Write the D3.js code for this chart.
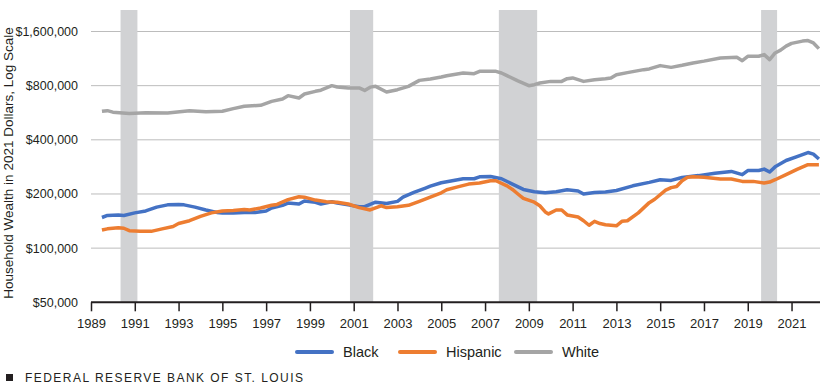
<!DOCTYPE html>
<html>
<head>
<meta charset="utf-8">
<script src="https://cdn.jsdelivr.net/npm/d3@7"></script>
<style>
  body { margin: 0; background: #fff; }
  svg text { font-family: "Liberation Sans", Arial, sans-serif; fill: #231f20; }
</style>
</head>
<body>
<div id="graphique"></div>
<script>
// values, [year, dollars]
const blackData = [
  [1989.5,148000],[1989.75,152000],[1990.25,153000],[1990.5,152000],[1991,157000],[1991.5,161000],
  [1992,169000],[1992.5,174000],[1993,175000],[1993.25,174000],[1993.75,169000],[1994.25,163000],
  [1994.75,158000],[1995,157000],[1995.5,157000],[1996,158000],[1996.5,158000],[1997,161000],
  [1997.25,167000],[1997.75,173000],[1998,178000],[1998.5,176000],[1998.75,183000],[1999.25,180000],
  [1999.5,176000],[2000,181000],[2000.25,178000],[2000.75,174000],[2001.25,170000],[2001.5,170000],
  [2002,180000],[2002.5,177000],[2003,182000],[2003.25,192000],[2003.75,204000],[2004.25,215000],
  [2004.5,221000],[2005,231000],[2005.5,237000],[2006,243000],[2006.5,243000],[2006.75,249000],
  [2007.25,250000],[2007.75,243000],[2008.25,227000],[2008.75,212000],[2009.25,206000],[2009.75,203000],
  [2010.25,206000],[2010.75,211000],[2011.25,208000],[2011.5,200000],[2012,204000],[2012.5,205000],
  [2013,209000],[2013.75,222000],[2014.5,232000],[2015,240000],[2015.5,238000],[2016,247000],
  [2016.75,253000],[2017.5,261000],[2018.25,267000],[2018.75,256000],[2019,270000],[2019.5,270000],
  [2019.75,275000],[2020,265000],[2020.25,283000],[2020.75,307000],[2021.25,323000],[2021.75,340000],
  [2022,333000],[2022.25,313000]
]
const hispanicData = [
  [1989.5,126000],[1989.75,128000],[1990.25,130000],[1990.5,129000],[1990.75,125000],[1991.25,124000],
  [1991.75,124000],[1992.25,128000],[1992.75,132000],[1993,137000],[1993.5,142000],[1994,150000],
  [1994.5,157000],[1995,161000],[1995.5,162000],[1996,164000],[1996.25,163000],[1996.75,167000],
  [1997.25,173000],[1997.5,175000],[1998,186000],[1998.5,193000],[1998.75,192000],[1999.25,185000],
  [1999.75,181000],[2000.25,180000],[2000.75,176000],[2001.25,168000],[2001.75,163000],[2002.25,172000],
  [2002.5,168000],[2003,170000],[2003.5,173000],[2004,182000],[2004.5,192000],[2005,203000],
  [2005.25,211000],[2005.75,219000],[2006.25,227000],[2006.75,230000],[2007.25,237000],[2007.5,237000],
  [2008,222000],[2008.25,212000],[2008.5,200000],[2008.75,189000],[2009.25,180000],[2009.5,172000],
  [2009.75,159000],[2009.9,155000],[2010.25,163000],[2010.5,163000],[2010.75,153000],[2011.25,149000],
  [2011.5,142000],[2011.75,134000],[2012,141000],[2012.25,137000],[2012.5,135000],[2013,133000],
  [2013.25,141000],[2013.5,142000],[2014,157000],[2014.5,179000],[2014.75,187000],[2015.25,210000],
  [2015.5,217000],[2015.75,220000],[2016,237000],[2016.25,248000],[2016.5,249000],[2017,248000],
  [2017.75,242000],[2018.25,242000],[2018.75,235000],[2019.25,235000],[2019.75,230000],[2020,233000],
  [2020.25,240000],[2020.75,256000],[2021.25,274000],[2021.75,291000],[2022.25,291000]
]
const whiteData = [
  [1989.5,576000],[1989.75,581000],[1990,570000],[1990.75,561000],[1991.5,566000],[1992.5,564000],
  [1993.5,581000],[1994.25,573000],[1995,577000],[1995.5,596000],[1996,614000],[1996.75,622000],
  [1997.25,654000],[1997.75,675000],[1998,704000],[1998.5,683000],[1998.75,719000],[1999.25,744000],
  [1999.5,755000],[2000,800000],[2000.25,787000],[2000.75,777000],[2001.25,777000],[2001.5,753000],
  [2001.75,785000],[2002,793000],[2002.5,738000],[2003,760000],[2003.5,793000],[2004,856000],
  [2004.5,872000],[2005,894000],[2005.25,909000],[2006,941000],[2006.5,933000],[2006.75,961000],
  [2007.5,961000],[2007.75,941000],[2008,909000],[2008.5,850000],[2009,800000],[2009.25,810000],
  [2009.5,828000],[2010,845000],[2010.5,845000],[2010.75,875000],[2011,883000],[2011.25,864000],
  [2011.5,845000],[2012,864000],[2012.5,875000],[2012.75,883000],[2013,921000],[2013.5,945000],
  [2014.25,982000],[2014.5,991000],[2015,1034000],[2015.5,1011000],[2016,1038000],[2016.5,1070000],
  [2017,1095000],[2017.75,1141000],[2018.5,1150000],[2018.75,1102000],[2019,1165000],[2019.5,1165000],
  [2019.75,1190000],[2020,1116000],[2020.25,1216000],[2020.5,1261000],[2020.75,1327000],[2021,1375000],
  [2021.5,1415000],[2021.75,1424000],[2022,1382000],[2022.25,1285000]
]
const recessions = [[1990.35, 1991.12], [2000.83, 2001.89], [2007.63, 2009.38], [2019.61, 2020.34]]
const yTicks = [50000, 100000, 200000, 400000, 800000, 1600000]
const xTicks = d3.range(1989, 2022, 2)
const seriesNames = ['Black', 'Hispanic', 'White']
const colors = ['#4472c4', '#ed7d31', '#a5a5a5']

const width = 825, height = 385
const svg = d3.select('#graphique').append('svg')
  .attr('width', width).attr('height', height)

const x = d3.scaleLinear().domain([1989, 2022.3]).range([91, 820])
const y = d3.scaleLog().domain([50000, 1600000]).range([302.3, 31.5])

// gridlines
svg.append('g').selectAll('line')
  .data(yTicks.slice(1)).enter().append('line')
  .attr('x1', 91).attr('x2', 820)
  .attr('y1', d => y(d)).attr('y2', d => y(d))
  .attr('stroke', '#bcbcbc').attr('stroke-width', 1)

// recession bars
svg.append('g').selectAll('rect')
  .data(recessions).enter().append('rect')
  .attr('x', d => x(d[0])).attr('width', d => x(d[1]) - x(d[0]))
  .attr('y', 10).attr('height', y(50000) - 10)
  .attr('fill', '#d1d2d4')

// y labels
svg.append('g').selectAll('text')
  .data(yTicks).enter().append('text')
  .attr('x', 78).attr('y', d => y(d) + 4.5)
  .attr('text-anchor', 'end').attr('font-size', 12.5)
  .text(d => '$' + d3.format(',')(d))

// x axis
const xAxis = svg.append('g')
  .attr('transform', 'translate(0,' + y(50000) + ')')
  .call(d3.axisBottom(x).tickValues(xTicks).tickFormat(d3.format('d')).tickSize(9).tickPadding(7))
xAxis.select('.domain').attr('stroke', '#231f20').attr('stroke-width', 2).attr('d', 'M91,0H820')
xAxis.selectAll('.tick line').attr('stroke', '#231f20').attr('stroke-width', 1.5)
xAxis.selectAll('.tick text').attr('font-size', 13).attr('font-family', null).attr('fill', '#231f20')

// lines
const line = d3.line().x(d => x(d[0])).y(d => y(d[1]))
const allData = [blackData, hispanicData, whiteData]
svg.append('g').selectAll('path')
  .data(allData).enter().append('path')
  .attr('d', line)
  .attr('fill', 'none')
  .attr('stroke', (d, i) => colors[i])
  .attr('stroke-width', 3.5)
  .attr('stroke-linejoin', 'round')

// y axis title
svg.append('text')
  .attr('transform', 'translate(13,163) rotate(-90)')
  .attr('text-anchor', 'middle').attr('font-size', 13.5)
  .text('Household Wealth in 2021 Dollars, Log Scale')

// legend
const legendX = [297, 400, 516]
const legend = svg.append('g').selectAll('g')
  .data(seriesNames).enter().append('g')
  .attr('transform', (d, i) => 'translate(' + legendX[i] + ',352)')
legend.append('line')
  .attr('x1', 0).attr('x2', 35)
  .attr('stroke', (d, i) => colors[i]).attr('stroke-width', 4).attr('stroke-linecap', 'round')
legend.append('text')
  .attr('x', 46).attr('y', 5).attr('font-size', 14.5)
  .text(d => d)

// footer
svg.append('rect').attr('x', 6).attr('y', 374).attr('width', 7).attr('height', 7).attr('fill', '#231f20')
svg.append('text')
  .attr('x', 25).attr('y', 381.5)
  .attr('font-size', 12)
  .attr('textLength', 278).attr('lengthAdjust', 'spacing')
  .text('FEDERAL RESERVE BANK OF ST. LOUIS')
</script>
</body>
</html>
